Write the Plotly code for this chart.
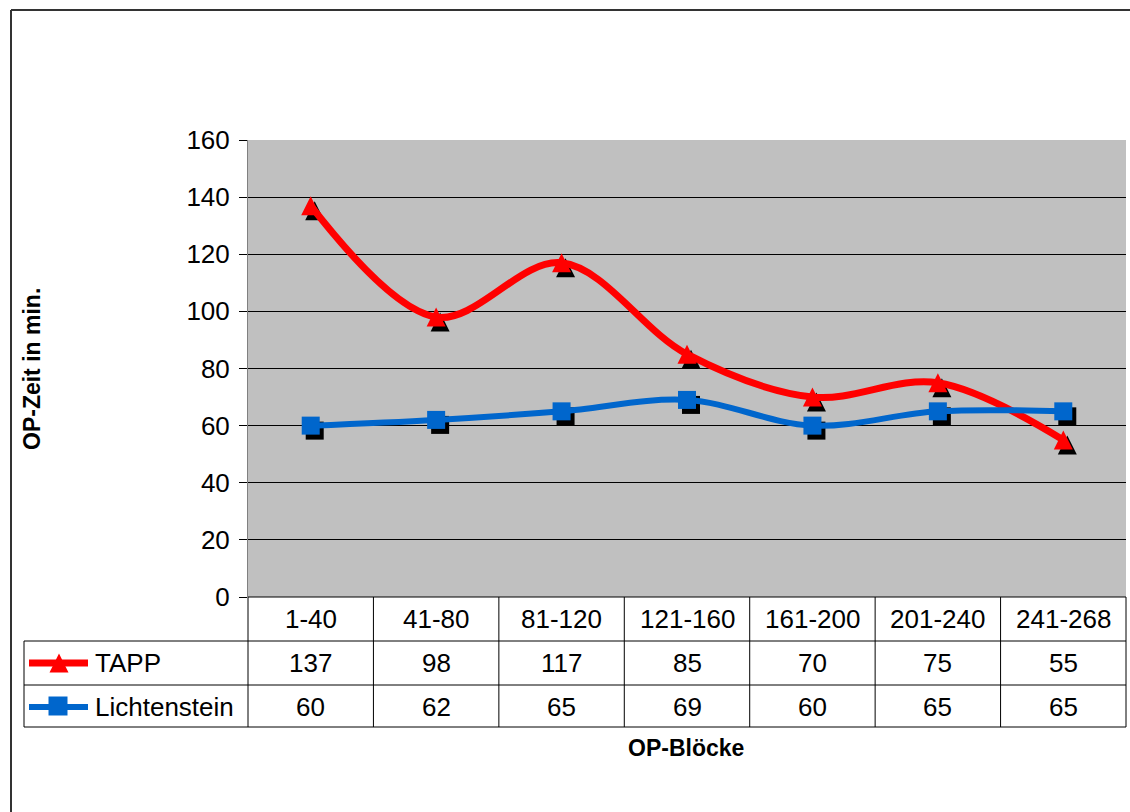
import plotly.graph_objects as go

# Data
categories = ["1-40", "41-80", "81-120", "121-160", "161-200", "201-240", "241-268"]
tapp = [137, 98, 117, 85, 70, 75, 55]
lichtenstein = [60, 62, 65, 69, 60, 65, 65]
series_names = ["TAPP", "Lichtenstein"]
y_ticks = [0, 20, 40, 60, 80, 100, 120, 140, 160]

# Page geometry (pixels)
W, H = 1130, 812
PL, PR, PT, PB = 248, 1126, 140, 597          # plot area
ROW_Y = [619, 663, 707]                       # table row centres
ROW_LINES = [641, 685, 727]                   # table horizontal rules
TABLE_LEFT = 24

RED = "#FF0000"
BLUE = "#0066CC"
FONT = "Liberation Sans, Arial, sans-serif"
FS = 26

n = len(categories)
xs = list(range(n))
px_per_cat = (PR - PL) / n
px_per_unit = (PB - PT) / 160.0
shadow_dx = 4 / px_per_cat
shadow_dy = 5 / px_per_unit

TRI = 19       # triangle marker size (px)
SQ = 18        # square marker size (px)
# "arrow-up" symbols hang below their anchor, so lift the anchor by half a marker
tri_lift = (TRI / 2) / px_per_unit

fig = go.Figure()


def marker_trace(values, symbol, size, color, dx=0.0, dy=0.0):
    return go.Scatter(
        x=[x + dx for x in xs], y=[v + dy for v in values],
        mode="markers", marker=dict(symbol=symbol, size=size, color=color),
        hoverinfo="skip", showlegend=False, xaxis="x", yaxis="y")


def line_trace(name, values, color, lw):
    return go.Scatter(
        x=xs, y=values, mode="lines", name=name,
        line=dict(color=color, width=lw, shape="spline", smoothing=1),
        showlegend=False, xaxis="x", yaxis="y")


# TAPP: shadow, line, triangles
fig.add_trace(marker_trace(tapp, "arrow-up", TRI, "black", shadow_dx, tri_lift - shadow_dy))
fig.add_trace(line_trace("TAPP", tapp, RED, 7))
fig.add_trace(marker_trace(tapp, "arrow-up", TRI, RED, 0, tri_lift))
# Lichtenstein: shadow, line, squares
fig.add_trace(marker_trace(lichtenstein, "square", SQ, "black", shadow_dx, -shadow_dy))
fig.add_trace(line_trace("Lichtenstein", lichtenstein, BLUE, 6))
fig.add_trace(marker_trace(lichtenstein, "square", SQ, BLUE))

# legend keys inside the data table (pixel coordinates on the overlay axes)
for color, lw, yc in [(RED, 7, ROW_Y[1]), (BLUE, 6, ROW_Y[2])]:
    fig.add_trace(go.Scatter(
        x=[29, 88], y=[yc, yc], mode="lines", line=dict(color=color, width=lw),
        showlegend=False, hoverinfo="skip", xaxis="x2", yaxis="y2"))
fig.add_trace(go.Scatter(
    x=[59], y=[ROW_Y[1] - TRI / 2], mode="markers",
    marker=dict(symbol="arrow-up", size=TRI, color=RED),
    showlegend=False, hoverinfo="skip", xaxis="x2", yaxis="y2"))
fig.add_trace(go.Scatter(
    x=[58], y=[ROW_Y[2] - 1], mode="markers",
    marker=dict(symbol="square", size=SQ + 1, color=BLUE),
    showlegend=False, hoverinfo="skip", xaxis="x2", yaxis="y2"))

shapes = [
    # grey plot area
    dict(type="rect", xref="x domain", yref="y domain", x0=0, x1=1, y0=0, y1=1,
         fillcolor="#C0C0C0", line=dict(width=0), layer="below"),
    # outer frame
    dict(type="line", xref="x2", yref="y2", x0=11, x1=W, y0=10, y1=10,
         line=dict(color="#333333", width=2)),
    dict(type="line", xref="x2", yref="y2", x0=11, x1=11, y0=10, y1=H,
         line=dict(color="#333333", width=2)),
    # table top rule (category axis)
    dict(type="line", xref="x2", yref="y2", x0=PL, x1=PR, y0=PB, y1=PB,
         line=dict(color="black", width=1)),
    # table left edge for series rows
    dict(type="line", xref="x2", yref="y2", x0=TABLE_LEFT, x1=TABLE_LEFT,
         y0=ROW_LINES[0], y1=ROW_LINES[2], line=dict(color="black", width=1)),
]
for yl in ROW_LINES:
    shapes.append(dict(type="line", xref="x2", yref="y2", x0=TABLE_LEFT, x1=PR,
                       y0=yl, y1=yl, line=dict(color="black", width=1)))
for i in range(n + 1):
    xv = PL + i * px_per_cat
    shapes.append(dict(type="line", xref="x2", yref="y2", x0=xv, x1=xv,
                       y0=PB, y1=ROW_LINES[2], line=dict(color="black", width=1)))

annotations = []
for i, c in enumerate(categories):
    annotations.append(dict(x=i, y=ROW_Y[0], xref="x", yref="y2", text=c,
                            showarrow=False, font=dict(size=FS, color="black")))
    annotations.append(dict(x=i, y=ROW_Y[1], xref="x", yref="y2", text=str(tapp[i]),
                            showarrow=False, font=dict(size=FS, color="black")))
    annotations.append(dict(x=i, y=ROW_Y[2], xref="x", yref="y2", text=str(lichtenstein[i]),
                            showarrow=False, font=dict(size=FS, color="black")))
for name, yc in zip(series_names, ROW_Y[1:]):
    annotations.append(dict(x=93, y=yc, xref="x2", yref="y2", text=name,
                            xanchor="left", showarrow=False,
                            font=dict(size=FS, color="black")))
annotations.append(dict(x=686, y=748, xref="x2", yref="y2", text="<b>OP-Blöcke</b>",
                        showarrow=False, font=dict(size=23, color="black")))
annotations.append(dict(x=32, y=369, xref="x2", yref="y2", text="<b>OP-Zeit in min.</b>",
                        textangle=-90, showarrow=False, font=dict(size=23, color="black")))

fig.update_layout(
    width=W, height=H, margin=dict(l=0, r=0, t=0, b=0, autoexpand=False),
    paper_bgcolor="white", plot_bgcolor="rgba(0,0,0,0)",
    font=dict(family=FONT, color="black"),
    showlegend=False,
    xaxis=dict(domain=[PL / W, PR / W], range=[-0.5, n - 0.5],
               showticklabels=False, showgrid=False, zeroline=False,
               ticks="", showline=False, fixedrange=True, automargin=False),
    yaxis=dict(domain=[(H - PB) / H, (H - PT) / H], range=[0, 160],
               tickvals=y_ticks, ticktext=[str(t) for t in y_ticks],
               showgrid=True, gridcolor="black", gridwidth=1, zeroline=False,
               ticks="outside", ticklen=8, tickcolor="black", tickwidth=1,
               ticklabelstandoff=4, automargin=False,
               showline=True, linecolor="#808080", linewidth=1,
               tickfont=dict(size=FS, color="black"), fixedrange=True),
    xaxis2=dict(domain=[0, 1], range=[0, W], visible=False, anchor="y2",
                fixedrange=True, automargin=False),
    yaxis2=dict(domain=[0, 1], range=[H, 0], visible=False, anchor="x2",
                fixedrange=True, automargin=False),
    shapes=shapes, annotations=annotations,
)

fig.write_html("out.html")
